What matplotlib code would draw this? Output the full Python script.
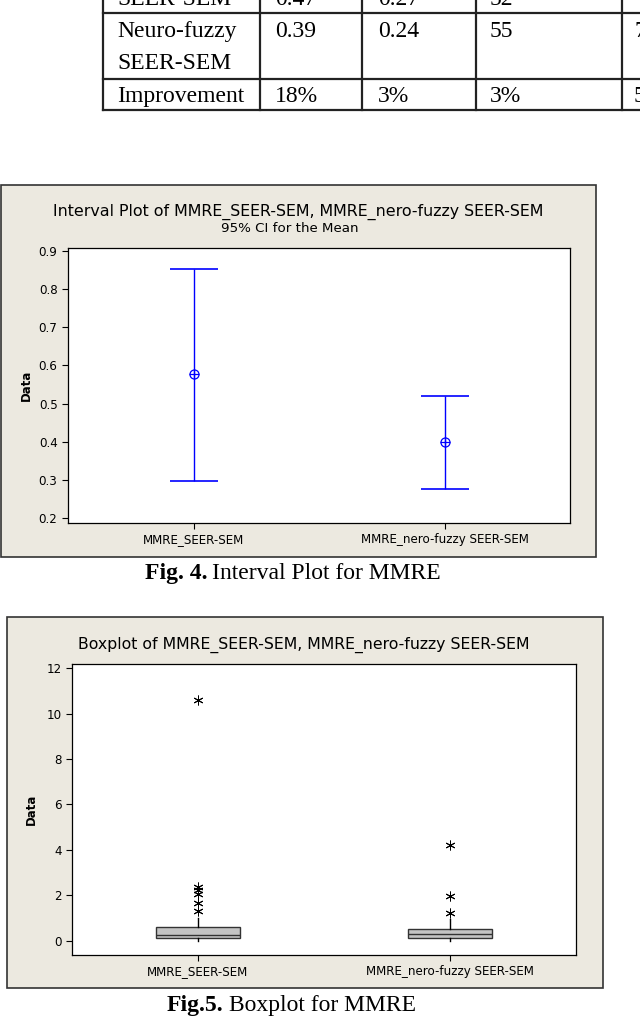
import matplotlib
matplotlib.use("Agg")
import matplotlib.pyplot as plt
from matplotlib.patches import Rectangle
from matplotlib.lines import Line2D

W, H = 640, 1019

# --- table (partly cut off at the top of the page) ---
row_first = ["SEER-SEM", "0.47", "0.27", "52"]
row_neuro = ["Neuro-fuzzy", "0.39", "0.24", "55", "7"]
row_neuro2 = "SEER-SEM"
row_improve = ["Improvement", "18%", "3%", "3%", "5"]

# --- interval plot (95% CI for the mean) ---
groups = ["MMRE_SEER-SEM", "MMRE_nero-fuzzy SEER-SEM"]
ci_mean = [0.577, 0.400]
ci_low = [0.298, 0.277]
ci_high = [0.853, 0.521]

# --- boxplot ---
box_q1 = [0.13, 0.13]
box_med = [0.26, 0.30]
box_q3 = [0.60, 0.52]
whisk_lo = [0.01, 0.01]
whisk_hi = [1.02, 0.97]
outliers_seer = [10.6, 2.37, 2.22, 2.07, 1.68, 1.33]
outliers_nf = [4.2, 1.98, 1.23]

BG = "#ECE9E0"
SERIF = "Liberation Serif"
SANS = "DejaVu Sans"


def fx(x):
    return x / W


def fy(y):
    return 1 - y / H


def axes_px(fig, left, top, right, bottom):
    return fig.add_axes([fx(left), fy(bottom), (right - left) / W, (bottom - top) / H])


fig = plt.figure(figsize=(W / 100, H / 100), dpi=100)
renderer = fig.canvas.get_renderer()

# table lines
tl = "#222222"
for y in [13, 79, 110]:
    fig.add_artist(Line2D([fx(103), fx(640)], [fy(y), fy(y)], color=tl, lw=1.6))
for x in [103, 260, 362, 476, 622]:
    fig.add_artist(Line2D([fx(x), fx(x)], [fy(-5), fy(110)], color=tl, lw=1.6))

TS = 17
col_x = [117, 275, 378, 490, 634]
for i, t in enumerate(row_first):
    fig.text(fx(col_x[i]), fy(5), t, family=SERIF, fontsize=TS, va="baseline")
for i, t in enumerate(row_neuro):
    fig.text(fx(col_x[i]), fy(37), t, family=SERIF, fontsize=TS, va="baseline")
fig.text(fx(col_x[0]), fy(69), row_neuro2, family=SERIF, fontsize=TS, va="baseline")
for i, t in enumerate(row_improve):
    fig.text(fx(col_x[i]), fy(102), t, family=SERIF, fontsize=TS, va="baseline")

# ---------------- Fig. 4 : interval plot ----------------
fig.add_artist(Rectangle((fx(0.5), fy(557)), (595.5) / W, (557 - 185) / H,
                         facecolor=BG, edgecolor="#333333", lw=1.2, zorder=-5))
fig.text(fx(298), fy(212), "Interval Plot of MMRE_SEER-SEM, MMRE_nero-fuzzy SEER-SEM",
         family=SANS, fontsize=11.4, ha="center", va="center")
fig.text(fx(290), fy(228), "95% CI for the Mean", family=SANS, fontsize=9.6,
         ha="center", va="center")

ax1 = axes_px(fig, 68, 248, 570, 523)
pos = [1, 2]
yerr = [[m - l for m, l in zip(ci_mean, ci_low)], [h - m for m, h in zip(ci_mean, ci_high)]]
ax1.errorbar(pos, ci_mean, yerr=yerr, fmt="none", ecolor="#0000FF", elinewidth=1.0,
             capsize=17.5, capthick=1.2)
ax1.plot(pos, ci_mean, "o", mfc="none", mec="#0000FF", ms=6.5, mew=0.9)
ax1.plot(pos, ci_mean, "+", color="#0000FF", ms=6.5, mew=0.9)
ax1.set_xlim(0.5, 2.5)
ax1.set_ylim(0.187, 0.908)
ax1.set_yticks([0.2, 0.3, 0.4, 0.5, 0.6, 0.7, 0.8, 0.9])
ax1.set_xticks(pos)
ax1.set_xticklabels(groups)
ax1.set_ylabel("Data", family=SANS, fontsize=8.5, fontweight="bold", labelpad=4)

# ---------------- Fig. 5 : boxplot ----------------
fig.add_artist(Rectangle((fx(7), fy(988)), (603 - 7) / W, (988 - 617) / H,
                         facecolor=BG, edgecolor="#333333", lw=1.2, zorder=-5))
fig.text(fx(304), fy(645), "Boxplot of MMRE_SEER-SEM, MMRE_nero-fuzzy SEER-SEM",
         family=SANS, fontsize=11.3, ha="center", va="center")

ax2 = axes_px(fig, 72, 664, 576, 955)
fliers = [outliers_seer, outliers_nf]
stats = []
for i in range(2):
    stats.append(dict(med=box_med[i], q1=box_q1[i], q3=box_q3[i], whislo=whisk_lo[i],
                      whishi=whisk_hi[i], fliers=fliers[i], label=groups[i]))
ax2.bxp(stats, positions=pos, widths=0.33, patch_artist=True, showcaps=False,
        boxprops=dict(facecolor="#C4C4C4", edgecolor="#333333", lw=1.0),
        medianprops=dict(color="#333333", lw=1.0),
        whiskerprops=dict(color="black", lw=1.0),
        flierprops=dict(marker=(6, 2, 0), markersize=7, markeredgecolor="black",
                        markerfacecolor="black", markeredgewidth=0.7))
ax2.set_xlim(0.5, 2.5)
ax2.set_ylim(-0.62, 12.18)
ax2.set_yticks([0, 2, 4, 6, 8, 10, 12])
ax2.set_ylabel("Data", family=SANS, fontsize=8.5, fontweight="bold", labelpad=6)

for ax in (ax1, ax2):
    ax.set_facecolor("white")
    for s in ax.spines.values():
        s.set_color("black")
        s.set_linewidth(0.9)
    ax.tick_params(direction="out", length=4, width=0.8, labelsize=8.6, colors="black")
    for lab in ax.get_xticklabels() + ax.get_yticklabels():
        lab.set_family(SANS)


# captions: bold figure number followed by plain text
def caption(x, y, bold, rest, size=17):
    b = fig.text(fx(x), fy(y), bold, family=SERIF, fontsize=size, fontweight="bold",
                 va="baseline")
    ext = b.get_window_extent(renderer)
    fig.text(fx(ext.x1 + 5), fy(y), rest, family=SERIF, fontsize=size, va="baseline")


caption(145, 579, "Fig. 4.", "Interval Plot for MMRE")
caption(167, 1011, "Fig.5.", "Boxplot for MMRE")

fig.savefig("out.png", dpi=100, facecolor="white")
